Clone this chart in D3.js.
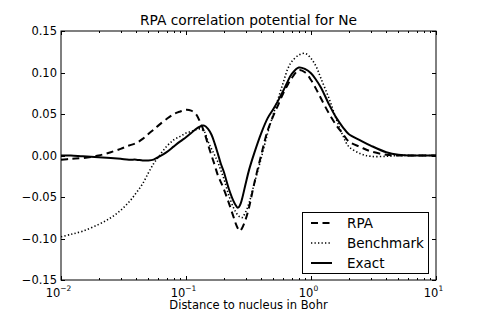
<!DOCTYPE html>
<html><head><meta charset="utf-8">
<script src="https://cdn.jsdelivr.net/npm/d3@7/dist/d3.min.js"></script>
<style>body{margin:0;background:#fff}svg{display:block}text{font-family:"DejaVu Sans",sans-serif;fill:#000}</style>
</head><body>
<svg id="c" width="485" height="312"></svg>
<script>
// ---- data ----
const distance = [0.01,0.012,0.015,0.02,0.025,0.03,0.035,0.04,0.045,0.05,0.055,0.06,0.07,0.08,0.09,0.1,0.11,0.12,0.13,0.14,0.15,0.16,0.17,0.18,0.19,0.2,0.22,0.24,0.25,0.26,0.27,0.28,0.3,0.32,0.35,0.4,0.45,0.5,0.55,0.6,0.65,0.7,0.8,0.9,1.0,1.1,1.2,1.4,1.6,1.8,2.0,2.5,3,4,5,7,10];
const rpa = [-0.005,-0.004,-0.003,0.0,0.004,0.008,0.012,0.015,0.020,0.026,0.031,0.036,0.044,0.050,0.053,0.055,0.054,0.050,0.040,0.028,0.013,0.0,-0.012,-0.024,-0.032,-0.040,-0.057,-0.074,-0.082,-0.088,-0.091,-0.088,-0.077,-0.062,-0.035,0.001,0.030,0.048,0.062,0.075,0.085,0.093,0.103,0.100,0.091,0.080,0.069,0.050,0.036,0.026,0.017,0.010,0.005,0.001,0.0,0.0,0.0];
const benchmark = [-0.098,-0.095,-0.091,-0.083,-0.075,-0.066,-0.056,-0.045,-0.034,-0.021,-0.010,-0.002,0.011,0.019,0.023,0.027,0.029,0.031,0.032,0.029,0.017,0.008,0.0,-0.008,-0.018,-0.027,-0.048,-0.063,-0.068,-0.072,-0.074,-0.075,-0.068,-0.057,-0.035,-0.003,0.027,0.050,0.070,0.088,0.104,0.113,0.121,0.123,0.117,0.107,0.093,0.068,0.043,0.024,0.011,0.002,-0.001,-0.001,0.0,0.0,0.0];
const exact = [0.0,0.0,-0.001,-0.002,-0.003,-0.004,-0.005,-0.005,-0.006,-0.006,-0.005,-0.002,0.004,0.011,0.017,0.022,0.027,0.032,0.035,0.036,0.032,0.025,0.014,0.002,-0.010,-0.019,-0.040,-0.055,-0.060,-0.063,-0.060,-0.053,-0.034,-0.017,0.002,0.027,0.045,0.056,0.067,0.078,0.089,0.098,0.106,0.104,0.099,0.091,0.082,0.061,0.045,0.034,0.026,0.018,0.012,0.004,0.001,0.0,0.0];
const yTicks = [-0.15,-0.10,-0.05,0.0,0.05,0.10,0.15];
const yTickLabels = ["\u22120.15","\u22120.10","\u22120.05","0.00","0.05","0.10","0.15"];
const xTicks = [0.01,0.1,1,10];
const xTickExponents = ["\u22122","\u22121","0","1"];
const seriesNames = ["RPA","Benchmark","Exact"];
const titleText = "RPA correlation potential for Ne";
const xLabelText = "Distance to nucleus in Bohr";

// ---- layout ----
const L=61,R=436,T=31,B=280;
const svg=d3.select("#c");
const x=d3.scaleLog().domain([0.01,10]).range([L,R]);
const y=d3.scaleLinear().domain([-0.15,0.15]).range([B,T]);

svg.append("clipPath").attr("id","clip").append("rect").attr("x",L).attr("y",T).attr("width",R-L).attr("height",B-T);

const styles=[
  {dash:"7,4.5",w:2},
  {dash:"1.3,2.2",w:1.6},
  {dash:null,w:2}
];
const seriesVals=[rpa,benchmark,exact];
const line=d3.line().x(d=>x(d[0])).y(d=>y(d[1])).curve(d3.curveCatmullRom.alpha(0.5));
const g=svg.append("g").attr("clip-path","url(#clip)");
seriesVals.forEach((vals,i)=>{
  const p=g.append("path").datum(distance.map((d,j)=>[d,vals[j]]))
    .attr("d",line).attr("fill","none").attr("stroke","#000")
    .attr("stroke-width",styles[i].w).attr("stroke-linejoin","round");
  if(styles[i].dash) p.attr("stroke-dasharray",styles[i].dash);
});

// frame
svg.append("rect").attr("x",L).attr("y",T).attr("width",R-L).attr("height",B-T)
  .attr("fill","none").attr("stroke","#000").attr("stroke-width",1);

// y ticks (inward, both sides)
const ax=svg.append("g").attr("stroke","#000").attr("stroke-width",1);
yTicks.forEach(v=>{
  const yy=Math.round(y(v))+0.5;
  ax.append("line").attr("x1",L).attr("x2",L+4).attr("y1",yy).attr("y2",yy);
  ax.append("line").attr("x1",R-4).attr("x2",R).attr("y1",yy).attr("y2",yy);
});
svg.selectAll(".yl").data(yTicks).enter().append("text")
  .attr("x",57).attr("y",d=>y(d)).attr("dy","0.36em")
  .attr("text-anchor","end").attr("font-size","11.5px")
  .text((d,i)=>yTickLabels[i]);

// x ticks major + minor
const minor=[];
for(let e=-2;e<1;e++){for(let k=2;k<=9;k++)minor.push(k*Math.pow(10,e));}
xTicks.forEach(v=>{
  const xx=Math.round(x(v))+0.5;
  ax.append("line").attr("x1",xx).attr("x2",xx).attr("y1",B).attr("y2",B-4);
  ax.append("line").attr("x1",xx).attr("x2",xx).attr("y1",T).attr("y2",T+4);
});
minor.forEach(v=>{
  const xx=Math.round(x(v))+0.5;
  ax.append("line").attr("x1",xx).attr("x2",xx).attr("y1",B).attr("y2",B-2);
  ax.append("line").attr("x1",xx).attr("x2",xx).attr("y1",T).attr("y2",T+2);
});
xTicks.forEach((v,i)=>{
  const t=svg.append("text").attr("x",x(v)-2.5).attr("y",296.5).attr("text-anchor","middle").attr("font-size","11.5px");
  t.append("tspan").text("10");
  t.append("tspan").attr("font-size","7.5px").attr("dy","-6").text(xTickExponents[i]);
});

// title & x label
svg.append("text").attr("x",(L+R)/2).attr("y",25).attr("text-anchor","middle").attr("font-size","13.8px").text(titleText);
svg.append("text").attr("x",(L+R)/2).attr("y",309).attr("text-anchor","middle").attr("font-size","11.5px").text(xLabelText);

// legend
const lg=svg.append("g");
lg.append("rect").attr("x",302.5).attr("y",212.5).attr("width",126).attr("height",61)
  .attr("fill","#fff").attr("stroke","#000").attr("stroke-width",1);
const rowsY=[223,243,263];
seriesNames.forEach((n,i)=>{
  const l=lg.append("line").attr("x1",311).attr("x2",332).attr("y1",rowsY[i]).attr("y2",rowsY[i])
    .attr("stroke","#000").attr("stroke-width",styles[i].w);
  if(styles[i].dash) l.attr("stroke-dasharray",styles[i].dash);
  lg.append("text").attr("x",347).attr("y",rowsY[i]).attr("dy","0.36em").attr("font-size","13.5px").text(n);
});
</script>
</body></html>
